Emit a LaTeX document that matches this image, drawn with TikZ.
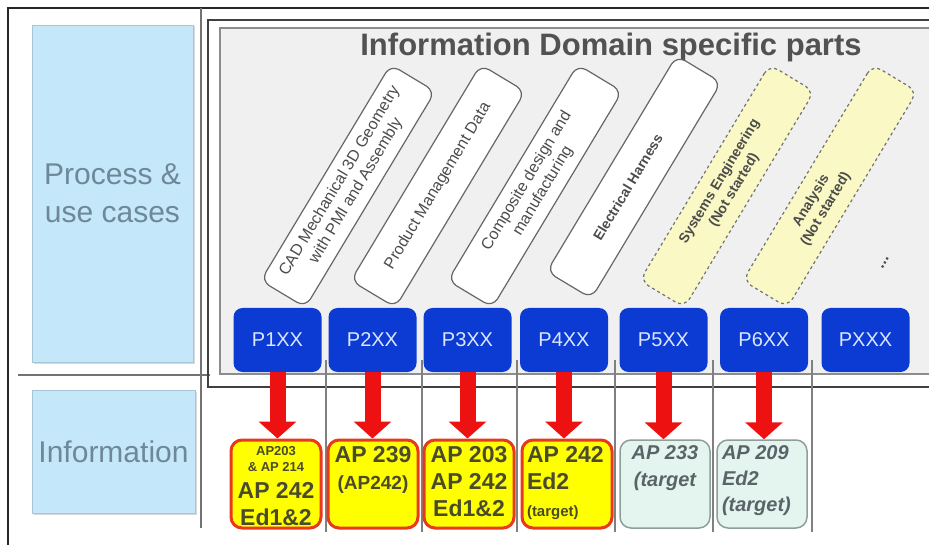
\documentclass[tikz,border=0pt]{standalone}
\usepackage{fontspec}
\setmainfont{Liberation Sans}
\usetikzlibrary{arrows.meta,shadows}

\definecolor{laneblue}{HTML}{C4E8FA}
\definecolor{lanetext}{HTML}{6E8898}
\definecolor{framegray}{HTML}{F0F0F0}
\definecolor{partblue}{HTML}{0B3BD3}
\definecolor{parttext}{HTML}{DCE6FF}
\definecolor{todoyellow}{HTML}{FAF8C4}
\definecolor{arrowred}{HTML}{EE1111}
\definecolor{apyellow}{HTML}{FFFF00}
\definecolor{apred}{HTML}{E8391C}
\definecolor{aptext}{HTML}{4A4A2C}
\definecolor{tgtgreen}{HTML}{E4F5EF}
\definecolor{tgtline}{HTML}{8E9E98}
\definecolor{tgttext}{HTML}{5A6468}

\newcommand{\apstack}[1]{\parbox[c][76pt][t]{80pt}{#1}}

\tikzstyle{lanebox}=[shape=rectangle,
                fill=laneblue,
                draw=laneblue!85!black,
                drop shadow={shadow xshift=1.5pt,shadow yshift=-1.5pt,opacity=0.3},
                text=lanetext,
                align=center,
                font=\fontsize{30}{38}\selectfont]
\tikzstyle{partbox}=[shape=rectangle,
                rounded corners=9pt,
                fill=partblue,
                minimum width=88pt,
                minimum height=64pt,
                text=parttext,
                font=\fontsize{20}{24}\selectfont]
\tikzstyle{topicbox}=[shape=rectangle,
                rounded corners=10pt,
                draw=black!60,
                fill=white,
                line width=1.2pt,
                rotate=59,
                minimum width=252pt,
                minimum height=52pt,
                align=center,
                text=black!70,
                font=\fontsize{16}{19}\selectfont]
\tikzstyle{openbox}=[topicbox,
                dashed,
                draw=black!55,
                fill=todoyellow,
                font=\bfseries\fontsize{14}{17}\selectfont]
\tikzstyle{apbox}=[shape=rectangle,
                rounded corners=11pt,
                fill=apyellow,
                draw=apred,
                line width=3pt,
                minimum width=90pt,
                minimum height=88pt,
                inner sep=0pt,
                text=aptext,
                font=\bfseries]
\tikzstyle{tgtbox}=[apbox,
                fill=tgtgreen,
                draw=tgtline,
                line width=1.5pt,
                text=tgttext,
                font=\bfseries\itshape]
\tikzstyle{flowarrow}=[draw=arrowred,
                line width=16pt,
                -{Triangle[width=37pt,length=17pt]}]
\tikzstyle{colline}=[draw=black!50,
                line width=1.2pt]

\begin{document}
\begin{tikzpicture}[x=1pt,y=-1pt,semithick]
\useasboundingbox (0,0) rectangle (929,545);

% outer border and lane separators
\draw[black!85,line width=1.2pt] (8,8) rectangle (960,560);
\draw[black!55,line width=2pt] (201,8) -- (201,528);
\draw[black!55,line width=2pt] (18,375) -- (210,375);

% lanes
\node[lanebox,minimum width=161pt,minimum height=337pt] (proc) at (112.5,193.5) {Process \&\\use cases};
\node[lanebox,minimum width=163pt,minimum height=123pt] (info) at (113.5,451.5) {Information};

% domain frame
\draw[black!75,line width=2.5pt] (208,20) rectangle (960,387);
\draw[black!45,line width=1.5pt,fill=framegray] (220,28) rectangle (960,374);
\node[text=black!68,font=\bfseries\fontsize{31}{36}\selectfont] (title) at (611,47) {Information Domain specific parts};

% column separators
\draw[colline] (326,360) -- (326,532);
\draw[colline] (422,360) -- (422,532);
\draw[colline] (517,360) -- (517,532);
\draw[colline] (615,360) -- (615,532);
\draw[colline] (713,360) -- (713,532);
\draw[colline] (812,360) -- (812,532);

% domain specific parts
\node[topicbox] (d1) at (348,186) {CAD Mechanical 3D Geometry\\with PMI and Assembly};
\node[topicbox] (d2) at (438,186) {Product Management Data};
\node[topicbox] (d3) at (535,186) {Composite design and\\manufacturing};
\node[topicbox,font=\bfseries\fontsize{14}{17}\selectfont] (d4) at (634,177) {Electrical Harness\kern24pt};
\node[openbox] (d5) at (727,186) {Systems Engineering\\(Not started)};
\node[openbox] (d6) at (830,186) {Analysis\kern44pt\\(Not started)\kern44pt};
\node[rotate=59,text=black!70,font=\bfseries\fontsize{16}{19}\selectfont] (more) at (885,263) {...};

% parts
\node[partbox] (p1) at (277.5,340) {P1XX};
\node[partbox] (p2) at (372.5,340) {P2XX};
\node[partbox] (p3) at (467.5,340) {P3XX};
\node[partbox] (p4) at (564,340)   {P4XX};
\node[partbox] (p5) at (663.5,340) {P5XX};
\node[partbox] (p6) at (764,340)   {P6XX};
\node[partbox] (px) at (865.5,340) {PXXX};

% information models
\node[apbox] (i1) at (276,484) {\apstack{\centering\fontsize{13}{16}\selectfont AP203\\\& AP 214\par\fontsize{23}{27}\selectfont AP 242\\Ed1\&2}};
\node[apbox] (i2) at (373,484) {\apstack{\centering\fontsize{23}{27}\selectfont AP 239\par\fontsize{19}{27}\selectfont (AP242)}};
\node[apbox] (i3) at (469,484) {\apstack{\centering\fontsize{23}{27}\selectfont AP 203\\AP 242\\Ed1\&2}};
\node[apbox] (i4) at (567,484) {\apstack{\raggedright\fontsize{23}{27}\selectfont AP 242\\Ed2\par\fontsize{15}{27}\selectfont (target)}};
\node[tgtbox] (i5) at (665,484) {\apstack{\centering\fontsize{20}{27}\selectfont AP 233\\(target}};
\node[tgtbox] (i6) at (762,484) {\apstack{\raggedright\fontsize{20}{26}\selectfont AP 209\\Ed2\\(target)}};

% mappings
\draw[flowarrow] (p1.south) -- (p1.south |- i1.north);
\draw[flowarrow] (p2.south) -- (p2.south |- i2.north);
\draw[flowarrow] (p3.south) -- (p3.south |- i3.north);
\draw[flowarrow] (p4.south) -- (p4.south |- i4.north);
\draw[flowarrow] (p5.south) -- (p5.south |- i5.north);
\draw[flowarrow] (p6.south) -- (p6.south |- i6.north);
\end{tikzpicture}
\end{document}
